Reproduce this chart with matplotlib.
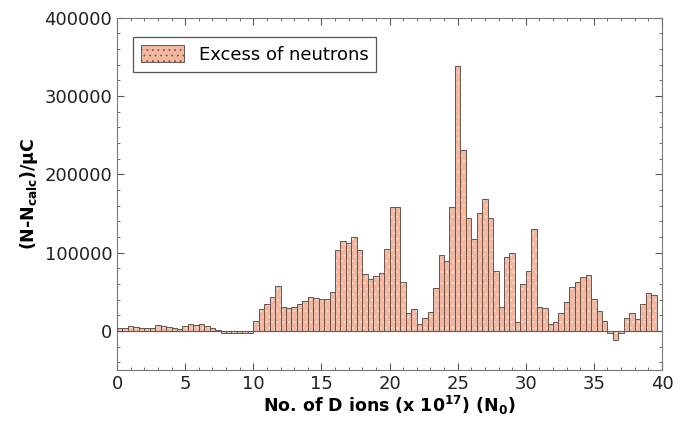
import matplotlib
matplotlib.use("Agg")
import matplotlib.pyplot as plt
from matplotlib.ticker import MultipleLocator
import numpy as np

# bin width and heights, one bar per 0.4 x 10^17 ions
bin_width = 0.4
excess = [
    3500, 4300, 6000, 5000, 4300, 3500, 3500, 7700, 6000, 5000,
    4300, 2500, 6000, 8500, 7700, 8500, 6800, 4300, 1000, -2500,
    -2500, -2500, -2500, -2500, -2500, 13000, 28000, 35000, 43000, 57000,
    31000, 29000, 31000, 34000, 38000, 43000, 42000, 41000, 41000, 50000,
    103000, 115000, 112000, 120000, 103000, 73000, 66000, 70000, 74000, 105000,
    158000, 158000, 62000, 23000, 28000, 9000, 17000, 24000, 55000, 97000,
    90000, 158000, 338000, 231000, 144000, 118000, 151000, 168000, 144000, 76000,
    30000, 94000, 100000, 12000, 60000, 76000, 130000, 30000, 29000, 9000,
    11500, 23500, 37500, 56000, 63000, 69000, 71500, 41000, 25600, 12800,
    -2000, -12000, -2000, 16500, 23500, 15000, 34000, 48000, 46000,
]
x_left = np.arange(len(excess)) * bin_width

legend_label = "Excess of neutrons"
x_label = r"No. of D ions (x 10$^{\mathbf{17}}$) (N$_{\mathbf{0}}$)"
y_label = r"(N-N$_{\mathbf{calc}}$)/μC"

plt.rcParams["hatch.linewidth"] = 0.5

fig = plt.figure(figsize=(6.86, 4.23), dpi=100)
ax = fig.add_axes([0.1706, 0.125, 0.7944, 0.833])

face = "#f6b69d"
# salmon fill with a faint white dotted texture, then the dark outlines
ax.bar(x_left, excess, width=bin_width, align="edge", color=face,
       hatch="...", edgecolor="#fde3d8", linewidth=0, zorder=2)
ax.bar(x_left, excess, width=bin_width, align="edge", fill=False,
       edgecolor="#5a5a5a", linewidth=0.7, zorder=3)
ax.axhline(0, color="#e8866a", linewidth=0.9, zorder=1)

# proxy for the legend
ax.bar([0], [0], width=0, color=face, hatch="...", edgecolor="#5a5a5a",
       linewidth=0.7, label=legend_label)

ax.set_xlim(0, 40)
ax.set_ylim(-50000, 400000)
ax.xaxis.set_major_locator(MultipleLocator(5))
ax.xaxis.set_minor_locator(MultipleLocator(1))
ax.yaxis.set_major_locator(MultipleLocator(100000))
ax.yaxis.set_minor_locator(MultipleLocator(20000))

ax.tick_params(which="both", direction="in", top=True, right=True,
               colors="#555555", labelcolor="#222222", labelsize=13)
ax.tick_params(which="major", length=5, width=0.8)
ax.tick_params(which="minor", length=2.5, width=0.6)
for s in ax.spines.values():
    s.set_color("#777777")
    s.set_linewidth(0.8)

ax.set_xlabel(x_label, fontsize=12.5, fontweight="bold", labelpad=1)
ax.set_ylabel(y_label, fontsize=12.5, fontweight="bold", labelpad=3)

leg = ax.legend(loc="upper left", bbox_to_anchor=(0.012, 0.97), fontsize=13,
                fancybox=False, framealpha=1, edgecolor="#555555",
                handlelength=2.4, handleheight=1.0, borderpad=0.45)
leg.get_frame().set_linewidth(0.9)

fig.savefig("out.png", dpi=100)
